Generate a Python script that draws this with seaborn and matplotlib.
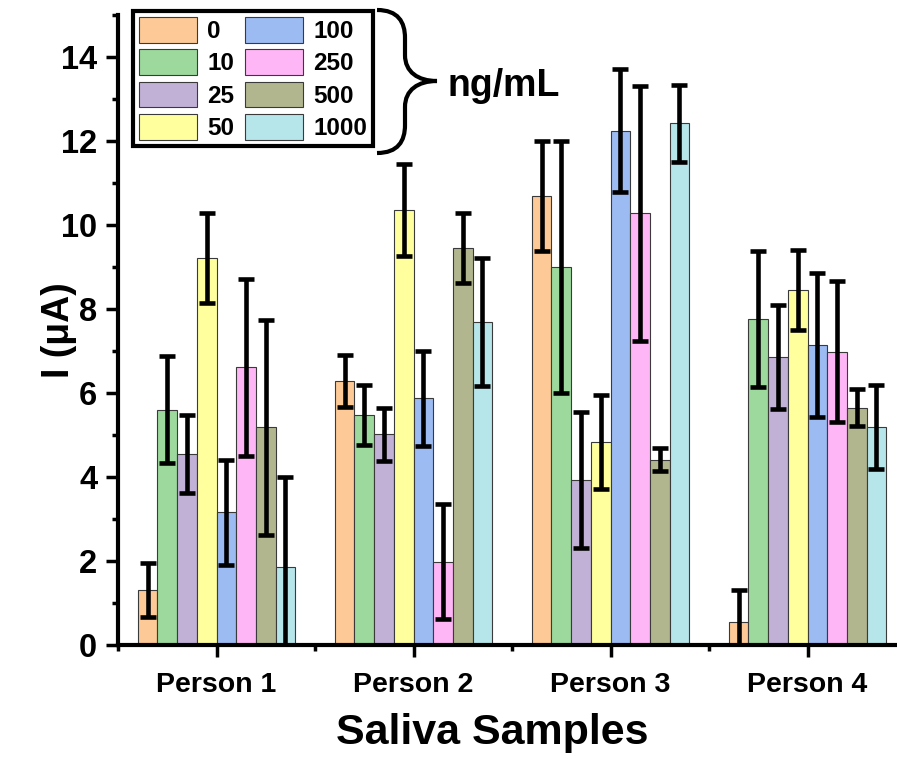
import numpy as np
import pandas as pd
import matplotlib
matplotlib.use("Agg")
import matplotlib.pyplot as plt
import seaborn as sns
from matplotlib.path import Path
from matplotlib.patches import PathPatch, Patch
from matplotlib.ticker import FixedLocator

# ---------------- data ----------------
persons = ["Person 1", "Person 2", "Person 3", "Person 4"]
concentrations = ["0", "10", "25", "50", "100", "250", "500", "1000"]

mean_0 = [1.31, 6.29, 10.70, 0.55]
mean_10 = [5.60, 5.48, 8.99, 7.76]
mean_25 = [4.55, 5.02, 3.93, 6.85]
mean_50 = [9.21, 10.36, 4.83, 8.45]
mean_100 = [3.16, 5.87, 12.25, 7.14]
mean_250 = [6.61, 1.98, 10.28, 6.98]
mean_500 = [5.18, 9.45, 4.41, 5.65]
mean_1000 = [1.85, 7.69, 12.42, 5.18]

err_0 = [0.65, 0.62, 1.31, 0.77]
err_10 = [1.27, 0.71, 3.00, 1.62]
err_25 = [0.92, 0.63, 1.62, 1.24]
err_50 = [1.07, 1.10, 1.12, 0.95]
err_100 = [1.25, 1.12, 1.47, 1.72]
err_250 = [2.10, 1.37, 3.03, 1.68]
err_500 = [2.55, 0.83, 0.27, 0.44]
err_1000 = [2.15, 1.52, 0.91, 1.00]

means = [mean_0, mean_10, mean_25, mean_50, mean_100, mean_250, mean_500, mean_1000]
errs = [err_0, err_10, err_25, err_50, err_100, err_250, err_500, err_1000]

colors = ["#FDC996", "#9DD99D", "#C2B1D7", "#FFFF9E",
          "#9CBBF2", "#FFB6F6", "#B2B68F", "#B6E5EA"]

rows = []
for c, m in zip(concentrations, means):
    for p, v in zip(persons, m):
        rows.append({"person": p, "conc": c, "value": v})
df = pd.DataFrame(rows)

# ---------------- style ----------------
sns.set_theme(style="ticks")
plt.rcParams["font.family"] = ["Liberation Sans", "DejaVu Sans"]
plt.rcParams["font.weight"] = "bold"
plt.rcParams["axes.labelweight"] = "bold"
for k in ["text.color", "axes.labelcolor", "xtick.color", "ytick.color",
          "xtick.labelcolor", "ytick.labelcolor", "axes.edgecolor"]:
    plt.rcParams[k] = "black"

W, H = 897, 759
fig = plt.figure(figsize=(W / 100, H / 100), dpi=100)
ax = fig.add_axes([118 / W, 1 - 645 / H, (W - 118) / W, 630 / H])

edge = "#3a3a3a"
sns.barplot(data=df, x="person", y="value", hue="conc",
            order=persons, hue_order=concentrations, palette=colors,
            errorbar=None, width=0.8, saturation=1, edgecolor=edge,
            linewidth=0.8, legend=False, ax=ax)

for cont, m, e in zip(ax.containers, means, errs):
    xs = [b.get_x() + b.get_width() / 2 for b in cont]
    ax.errorbar(xs, m, yerr=e, fmt="none", ecolor="black", elinewidth=3.3,
                capsize=6, capthick=3.3, zorder=5)

ax.set_ylim(0, 15)
ax.set_xlim(-0.5, (W - 118) / 197 - 0.5)
ax.yaxis.set_major_locator(FixedLocator([0, 2, 4, 6, 8, 10, 12, 14]))
ax.yaxis.set_minor_locator(FixedLocator([1, 3, 5, 7, 9, 11, 13, 15]))
ax.xaxis.set_minor_locator(FixedLocator([-0.5, 0.5, 1.5, 2.5]))

for s in ["top", "right"]:
    ax.spines[s].set_visible(False)
for s in ["left", "bottom"]:
    ax.spines[s].set_linewidth(3)
    ax.spines[s].set_color("black")

ax.tick_params(axis="both", which="major", direction="out", length=8.5,
               width=2.5, color="black", labelcolor="black")
ax.tick_params(axis="both", which="minor", direction="out", length=4.5,
               width=2.5, color="black")
ax.tick_params(axis="y", which="major", labelsize=23.5, pad=6.5)
ax.tick_params(axis="x", which="major", labelsize=20.5, pad=11)
for t in ax.get_xticklabels() + ax.get_yticklabels():
    t.set_fontweight("bold")

ax.set_xlabel("Saliva Samples", fontsize=31, fontweight="bold", color="black")
ax.set_ylabel("I (μA)", fontsize=27, fontweight="bold", color="black")
ax.xaxis.set_label_coords(0.48, -0.108)
ax.yaxis.set_label_coords(-0.052, 0.5)

handles = [Patch(facecolor=c, edgecolor=edge, linewidth=0.8) for c in colors]
leg = ax.legend(handles, concentrations, ncol=2, loc="upper left",
                bbox_to_anchor=(133 / W, 1 - 11 / H), bbox_transform=fig.transFigure,
                frameon=True, fancybox=False, edgecolor="black", framealpha=1,
                prop=dict(weight="bold", size=17.5), handlelength=2.4,
                handleheight=1.25, labelspacing=0.26, columnspacing=0.45,
                handletextpad=0.4, borderpad=0.25, borderaxespad=0)
leg.get_frame().set_linewidth(3)
for t in leg.get_texts():
    t.set_color("black")


def px(x, y):
    return (x / W, 1 - y / H)


verts = [px(377, 10), px(398, 10), px(405, 22), px(405, 38),
         px(405, 55),
         px(405, 72), px(418, 81), px(437, 81),
         px(418, 81), px(405, 90), px(405, 107),
         px(405, 125),
         px(405, 141), px(398, 153), px(377, 153)]
codes = [Path.MOVETO, Path.CURVE4, Path.CURVE4, Path.CURVE4,
         Path.LINETO,
         Path.CURVE4, Path.CURVE4, Path.CURVE4,
         Path.CURVE4, Path.CURVE4, Path.CURVE4,
         Path.LINETO,
         Path.CURVE4, Path.CURVE4, Path.CURVE4]
fig.add_artist(PathPatch(Path(verts, codes), facecolor="none", edgecolor="black",
                         linewidth=3, transform=fig.transFigure, capstyle="butt"))

fig.text(447 / W, 1 - 86 / H, "ng/mL", fontsize=27, fontweight="bold",
         ha="left", va="center", color="black")

fig.savefig("out.png", dpi=100)
